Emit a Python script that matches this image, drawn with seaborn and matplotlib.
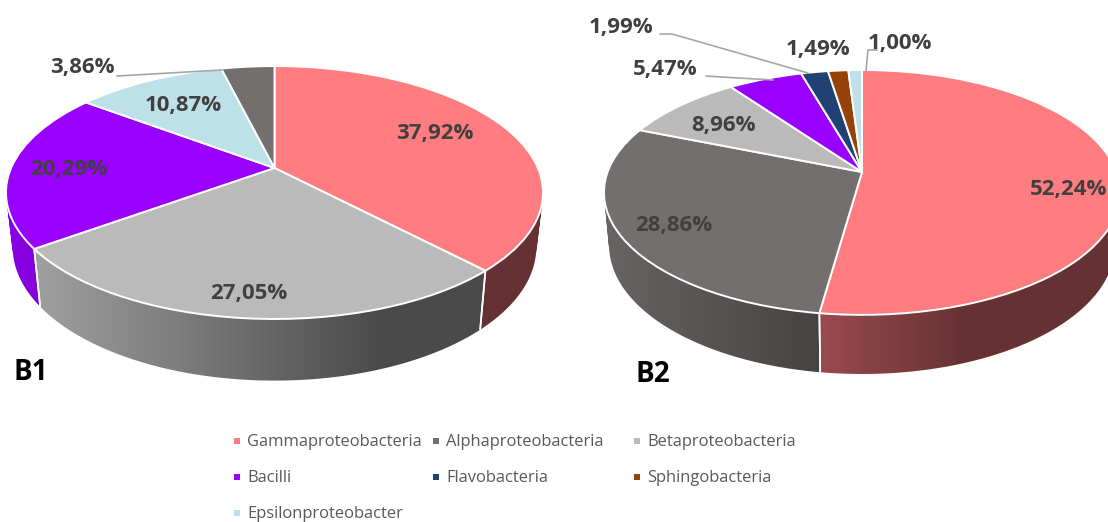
import numpy as np
import matplotlib
matplotlib.use("Agg")
import matplotlib.pyplot as plt
from matplotlib.patches import PathPatch
from matplotlib.path import Path
from matplotlib.transforms import Transform
import seaborn as sns

# Class names and their colours
classes = ["Gammaproteobacteria", "Alphaproteobacteria", "Betaproteobacteria",
           "Bacilli", "Flavobacteria", "Sphingobacteria", "Epsilonproteobacter"]
class_colors = ["#FF7C80", "#736F6E", "#BABABA", "#9900FF", "#214175", "#964209", "#BDE0E9"]

# Sample B1: share of each class, clockwise from twelve o'clock
b1_classes = ["Gammaproteobacteria", "Betaproteobacteria", "Bacilli",
              "Epsilonproteobacter", "Alphaproteobacteria"]
b1_values = [37.92, 27.05, 20.29, 10.87, 3.86]

# Sample B2
b2_classes = ["Gammaproteobacteria", "Alphaproteobacteria", "Betaproteobacteria",
              "Bacilli", "Flavobacteria", "Sphingobacteria", "Epsilonproteobacter"]
b2_values = [52.24, 28.86, 8.96, 5.47, 1.99, 1.49, 1.00]

sns.set_theme(style="white")
plt.rcParams["font.family"] = ["Open Sans", "DejaVu Sans"]
palette = dict(zip(classes, sns.color_palette(class_colors)))


class DiscProjection(Transform):
    """Perspective view of the unit disc, output in figure pixels."""
    input_dims = 2
    output_dims = 2
    is_separable = False
    has_inverse = False

    def __init__(self, cx, cy, b, a, k):
        super().__init__()
        self.cx, self.cy, self.b, self.a, self.k = cx, cy, b, a, k

    def transform_non_affine(self, values):
        values = np.asarray(values, dtype=float)
        u, v = values[:, 0], values[:, 1]
        w = 1 + self.k * v
        return np.column_stack([self.cx + self.b * u / w, self.cy - self.a * v / w])


def wall_gradient(color):
    """One-row RGB strip that darkens left to right, flat beyond 70% of the width."""
    pos = np.clip(np.linspace(0, 1, 512), 0, 0.7)
    factor = 0.9 - pos * 0.5 / 0.7
    return (np.array(color)[None, None, :] * factor[None, :, None]).clip(0, 1)


def wall_region(top, bottom):
    """Union of the quads between the two rims, all wound the same way."""
    paths = []
    for i in range(len(top) - 1):
        quad = np.array([top[i], top[i + 1], bottom[i + 1], bottom[i]])
        x, y = quad[:, 0], quad[:, 1]
        if np.dot(x, np.roll(y, -1)) - np.dot(y, np.roll(x, -1)) < 0:
            quad = quad[::-1]
        paths.append(Path(np.vstack([quad, quad[:1]]), closed=True))
    return Path.make_compound_path(*paths)


def draw_pie(ax, names, values, proj, rx, sx, sy, drop):
    colors = [palette[n] for n in names]
    wedges, _ = ax.pie(values, colors=colors, startangle=90, counterclock=False, radius=1,
                       wedgeprops=dict(transform=proj + ax.transData,
                                       edgecolor="white", linewidth=1.4, zorder=3))

    def lower_rim(pts):
        return np.column_stack([proj.cx + sx * (pts[:, 0] - proj.cx),
                                proj.cy + sy * (pts[:, 1] - proj.cy) + drop])

    left = proj.cx - rx
    for wedge, color in zip(wedges, colors):
        angles = np.radians(np.linspace(wedge.theta1, wedge.theta2, 160))
        top = proj.transform_non_affine(np.column_stack([np.cos(angles), np.sin(angles)]))
        bottom = lower_rim(top)
        # Side wall: gradient strip clipped to the band between the two rims
        outline = PathPatch(wall_region(top, bottom), facecolor="none", edgecolor="none",
                            transform=ax.transData)
        ax.add_patch(outline)
        strip = ax.imshow(wall_gradient(color), aspect="auto", zorder=1,
                          extent=(left, left + 2 * rx, 460, 0), interpolation="bilinear")
        strip.set_clip_path(outline)
        # Thin white divider where two walls meet on the near side
        for end in (0, -1):
            if np.sin(angles[end]) < 0:
                ax.plot([top[end, 0], bottom[end, 0]], [top[end, 1], bottom[end, 1]],
                        color="white", lw=1.2, zorder=2, solid_capstyle="butt")


fig = plt.figure(figsize=(11.08, 5.22), dpi=100)
ax = fig.add_axes([0, 0, 1, 1])

draw_pie(ax, b1_classes, b1_values, DiscProjection(274.5, 168, 263.4, 121.7, 0.194),
         268.5, 0.975, 1.055, 53.3)
draw_pie(ax, b2_classes, b2_values, DiscProjection(862, 172, 254.4, 119, 0.167),
         258, 0.98, 1.05, 52)

ax.set_aspect("auto")
ax.set_xlim(0, 1108)
ax.set_ylim(522, 0)
ax.set_axis_off()

label_style = dict(fontsize=16, fontweight="bold", color="#404040", ha="center", va="center", zorder=6)

# Percentage labels for B1
b1_label_x = [435, 249, 69, 183, 82]
b1_label_y = [134, 294, 170, 106, 68]
for value, x, y in zip(b1_values, b1_label_x, b1_label_y):
    ax.text(x, y, f"{value:.2f}%".replace(".", ","), **label_style)

# Percentage labels for B2
b2_label_x = [1069, 674, 723, 665, 621, 818, 900]
b2_label_y = [190, 226, 125, 69, 27, 49, 43]
for value, x, y in zip(b2_values, b2_label_x, b2_label_y):
    ax.text(x, y, f"{value:.2f}%".replace(".", ","), **label_style)

# Leader lines from outer labels to their slices
leader_lines = [
    ([117, 222], [76, 70]),
    ([660, 672, 808], [34, 34, 73]),
    ([706, 722, 773], [76, 77, 80]),
    ([877, 868, 866], [50, 50, 71]),
]
for xs, ys in leader_lines:
    ax.plot(xs, ys, color="#A6A6A6", lw=1.2, zorder=5)

# Panel tags
ax.text(13, 372, "B1", fontsize=20, fontweight="bold", color="black", va="center", zorder=6)
ax.text(636, 375, "B2", fontsize=20, fontweight="bold", color="black", va="center", zorder=6)

# Legend laid out in three columns
legend_order = classes
legend_x = [237, 436, 637, 237, 436, 637, 237]
legend_y = [441, 441, 441, 477, 477, 477, 513]
for name, x, y in zip(legend_order, legend_x, legend_y):
    ax.scatter([x], [y], marker="s", s=22, color=palette[name], linewidths=0, zorder=6)
    ax.text(x + 10, y + 1, name, fontsize=11.9, color="#595959", va="center", ha="left", zorder=6)

fig.savefig("out.png", dpi=100)
